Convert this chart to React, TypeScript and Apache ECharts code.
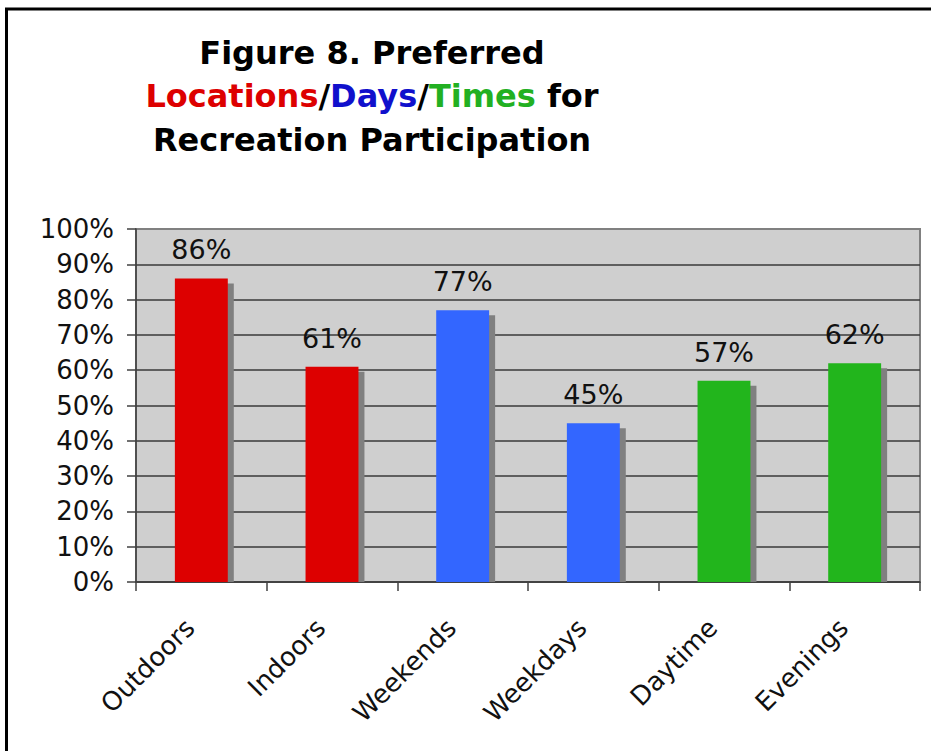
import React, { useEffect, useRef } from "react";
import * as echarts from "echarts";

const categories = ["Outdoors", "Indoors", "Weekends", "Weekdays", "Daytime", "Evenings"];
const values = [86, 61, 77, 45, 57, 62];
const barColors = ["#dd0000", "#dd0000", "#3366ff", "#3366ff", "#22b51c", "#22b51c"];
const yTicks = [0, 10, 20, 30, 40, 50, 60, 70, 80, 90, 100];

const FONT = "DejaVu Sans, Verdana, sans-serif";

export default function App() {
  const ref = useRef<HTMLDivElement>(null);
  useEffect(() => {
    if (!ref.current) return;
    const chart = echarts.init(ref.current, null, { renderer: "svg" });
    const data = categories.map((c, i) => [i, values[i]]);
    const option: any = {
      animation: false,
      backgroundColor: "#ffffff",
      textStyle: { fontFamily: FONT },
      title: {
        left: 367,
        top: 26,
        textAlign: "center",
        text:
          "{k|Figure 8. Preferred}\n{r|Locations}{k|/}{b|Days}{k|/}{g|Times}{k| for}\n{k|Recreation Participation}",
        textStyle: {
          fontFamily: FONT,
          rich: {
            k: { color: "#000000", fontSize: 32, fontWeight: "bold", lineHeight: 43.5, fontFamily: FONT },
            r: { color: "#dd0000", fontSize: 32, fontWeight: "bold", lineHeight: 43.5, fontFamily: FONT },
            b: { color: "#1010cc", fontSize: 32, fontWeight: "bold", lineHeight: 43.5, fontFamily: FONT },
            g: { color: "#22b022", fontSize: 32, fontWeight: "bold", lineHeight: 43.5, fontFamily: FONT },
          },
        },
      },
      graphic: [
        {
          type: "rect",
          shape: { x: 6.5, y: 9, width: 1000, height: 1000 },
          style: { fill: "none", stroke: "#000000", lineWidth: 3 },
          silent: true,
        },
      ],
      grid: {
        left: 136,
        right: 11,
        top: 229,
        bottom: 169,
        show: true,
        backgroundColor: "#cfcfcf",
        borderColor: "#808080",
        borderWidth: 2,
      },
      xAxis: {
        type: "category",
        data: categories,
        boundaryGap: true,
        axisLine: { show: true, lineStyle: { color: "#404040", width: 1.5 } },
        axisTick: { show: true, length: 9, alignWithLabel: false, lineStyle: { color: "#404040", width: 1.5 } },
        axisLabel: {
          rotate: 45,
          interval: 0,
          margin: 30,
          fontSize: 26,
          color: "#111111",
          fontFamily: FONT,
          padding: [0, 16, 0, 0],
        },
      },
      yAxis: {
        type: "value",
        min: 0,
        max: 100,
        interval: 10,
        axisLine: { show: true, lineStyle: { color: "#404040", width: 1.5 } },
        axisTick: { show: true, length: 9, lineStyle: { color: "#404040", width: 1.5 } },
        axisLabel: {
          formatter: (v: number) => (yTicks.includes(v) ? v + "%" : ""),
          margin: 22,
          fontSize: 26,
          color: "#111111",
          fontFamily: FONT,
        },
        splitLine: {
          show: true,
          showMaxLine: false,
          lineStyle: { color: "#3a3a3a", width: 1.5 },
        },
      },
      series: [
        {
          type: "custom",
          data,
          encode: { x: 0, y: 1 },
          renderItem: (params: any, api: any) => {
            const idx = api.value(0);
            const v = api.value(1);
            const top = api.coord([idx, v]);
            const base = api.coord([idx, 0]);
            const w = api.size([1, 0])[0] * 0.405;
            const x0 = top[0] - w / 2;
            const h = base[1] - top[1];
            return {
              type: "group",
              children: [
                {
                  type: "rect",
                  shape: { x: x0 + 6, y: top[1] + 5, width: w, height: h - 5 },
                  style: { fill: "#808080" },
                },
                {
                  type: "rect",
                  shape: { x: x0, y: top[1], width: w, height: h },
                  style: { fill: barColors[params.dataIndex] },
                },
                {
                  type: "text",
                  x: top[0],
                  y: top[1] - 15,
                  style: {
                    text: v + "%",
                    align: "center",
                    verticalAlign: "bottom",
                    fontSize: 27,
                    fontFamily: FONT,
                    fill: "#111111",
                  },
                },
              ],
            };
          },
        },
      ],
    };
    chart.setOption(option);
    return () => chart.dispose();
  }, []);
  return (
    <div
      ref={ref}
      style={{ position: "fixed", left: 0, top: 0, width: 931, height: 751 }}
    />
  );
}
